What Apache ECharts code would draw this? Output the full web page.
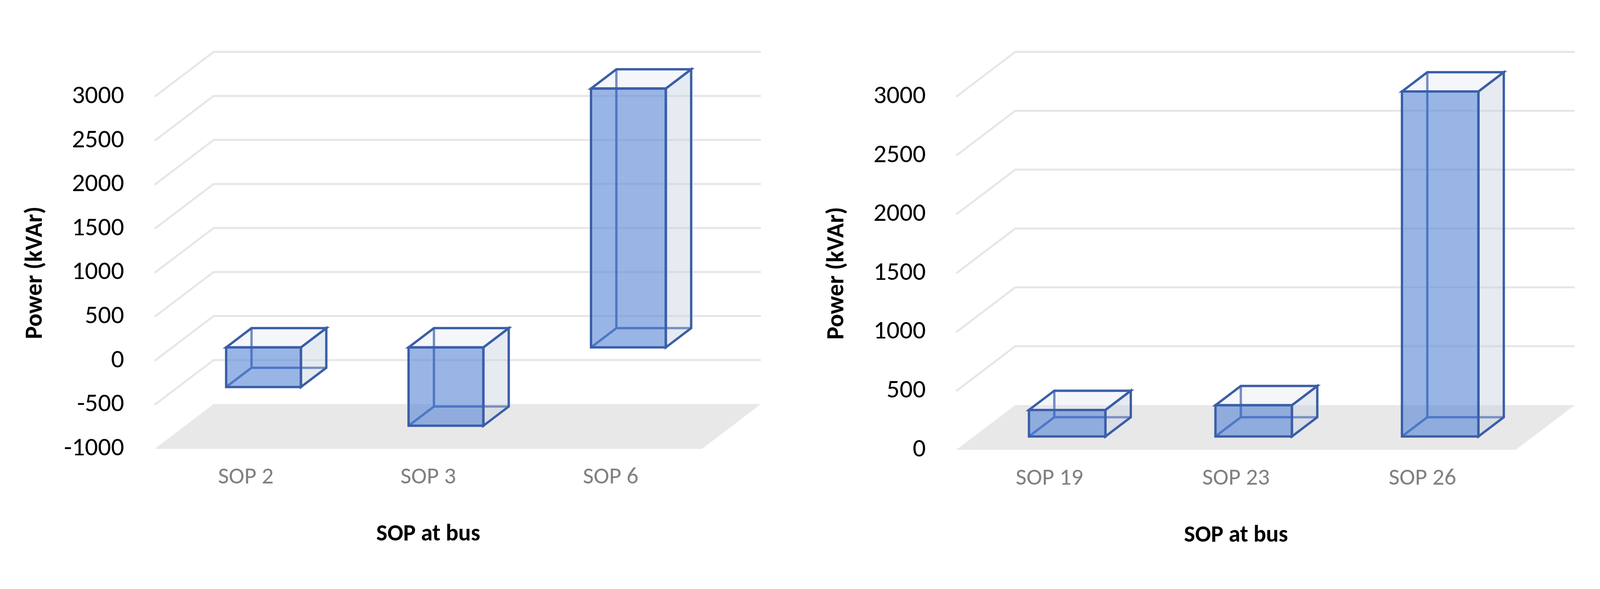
<!DOCTYPE html>
<html><head><meta charset="utf-8">
<script src="https://cdn.jsdelivr.net/npm/echarts@6/dist/echarts.min.js"></script>
<style>html,body{margin:0;background:#fff}#c{width:4323px;height:1507px}</style>
</head><body><div id="c"></div>
<script>
// data
const leftCats = ['SOP 2', 'SOP 3', 'SOP 6'];
const leftVals = [-450, -890, 2940];
const rightCats = ['SOP 19', 'SOP 23', 'SOP 26'];
const rightVals = [225, 265, 2930];
const leftTicks = [-1000, -500, 0, 500, 1000, 1500, 2000, 2500, 3000];
const rightTicks = [0, 500, 1000, 1500, 2000, 2500, 3000];

const S = 4323 / 1660;
const DX = 58 * S, DY = -44 * S;        // wall depth
const F1 = 0.3, BD = 0.43;              // bar front depth, bar depth (fraction)
const BW = 0.41;                        // bar width fraction of band

function gridItem(minV) {
  return function(params, api) {
    const v = api.value(1);
    const bw = api.size([1, 0])[0];
    const p0 = api.coord([0, v]);
    const x0 = p0[0] - bw / 2, x1 = api.coord([2, v])[0] + bw / 2, y = p0[1];
    const children = [];
    if (v === minV) {
      children.push({type: 'polygon', shape: {points: [[x0, y], [x1, y], [x1 + DX, y + DY], [x0 + DX, y + DY]]},
        style: {fill: '#e8e8e8'}});
    } else {
      children.push({type: 'polyline', shape: {points: [[x0, y], [x0 + DX, y + DY], [x1 + DX, y + DY]]},
        style: {stroke: '#e6e6e6', lineWidth: 5, fill: null}});
    }
    return {type: 'group', children};
  };
}

function barItem(params, api) {
  const c = api.value(0), v = api.value(1);
  const bw = api.size([1, 0])[0] * BW;
  const pa = api.coord([c, 0]), pb = api.coord([c, v]);
  const ox = DX * F1, oy = DY * F1, bx = DX * BD, by = DY * BD;
  const xl = pa[0] - bw / 2 + ox, xr = pa[0] + bw / 2 + ox;
  const yt = Math.min(pa[1], pb[1]) + oy, yb = Math.max(pa[1], pb[1]) + oy;
  const st = '#3a5ea8', lw = 6;
  return {type: 'group', children: [
    {type: 'polyline', shape: {points: [[xl + bx, yt + by], [xl + bx, yb + by], [xr + bx, yb + by]]},
      style: {stroke: st, lineWidth: lw, fill: null}},
    {type: 'polyline', shape: {points: [[xl, yb], [xl + bx, yb + by]]}, style: {stroke: st, lineWidth: lw}},
    {type: 'polygon', shape: {points: [[xr, yt], [xr + bx, yt + by], [xr + bx, yb + by], [xr, yb]]},
      style: {fill: 'rgba(200,208,225,0.45)', stroke: st, lineWidth: lw}},
    {type: 'polygon', shape: {points: [[xl, yt], [xl + bx, yt + by], [xr + bx, yt + by], [xr, yt]]},
      style: {fill: 'rgba(225,230,240,0.35)', stroke: st, lineWidth: lw}},
    {type: 'rect', shape: {x: xl, y: yt, width: xr - xl, height: yb - yt},
      style: {fill: 'rgba(90,135,215,0.62)', stroke: st, lineWidth: lw}}
  ]};
}

const font = 'Calibri, Carlito, "Open Sans", sans-serif';
function xAx(i, cats) {
  return {gridIndex: i, type: 'category', data: cats, axisLine: {show: false}, axisTick: {show: false},
    axisLabel: {color: '#808080', fontSize: 60, fontFamily: font, margin: 44},
    name: 'SOP at bus', nameLocation: 'middle', nameGap: 190,
    nameTextStyle: {color: '#000', fontSize: 60, fontWeight: 'bold', fontFamily: font}};
}
function yAx(i, min) {
  return {gridIndex: i, type: 'value', min: min, max: 3000, interval: 500, splitLine: {show: false},
    axisLine: {show: false}, axisTick: {show: false},
    axisLabel: {color: '#000', fontSize: 66, fontFamily: font, margin: 30 * S, formatter: v => String(v)},
    name: 'Power (kVAr)', nameLocation: 'middle', nameGap: 105 * S,
    nameTextStyle: {color: '#000', fontSize: 62, fontWeight: 'bold', fontFamily: font}};
}

const chart = echarts.init(document.getElementById('c'));
chart.setOption({
  animation: false,
  grid: [
    {left: 152 * S, width: 538 * S, top: 95 * S, height: 346 * S},
    {left: 940 * S, width: 550 * S, top: 95 * S, height: 347 * S}
  ],
  xAxis: [xAx(0, leftCats), xAx(1, rightCats)],
  yAxis: [yAx(0, -1000), yAx(1, 0)],
  series: [
    {type: 'custom', xAxisIndex: 0, yAxisIndex: 0, renderItem: gridItem(-1000), data: leftTicks.map(t => [0, t]), z: 1},
    {type: 'custom', xAxisIndex: 1, yAxisIndex: 1, renderItem: gridItem(0), data: rightTicks.map(t => [0, t]), z: 1},
    {type: 'custom', xAxisIndex: 0, yAxisIndex: 0, renderItem: barItem, data: leftVals.map((v, i) => [i, v]), z: 2},
    {type: 'custom', xAxisIndex: 1, yAxisIndex: 1, renderItem: barItem, data: rightVals.map((v, i) => [i, v]), z: 2}
  ]
});
</script></body></html>
